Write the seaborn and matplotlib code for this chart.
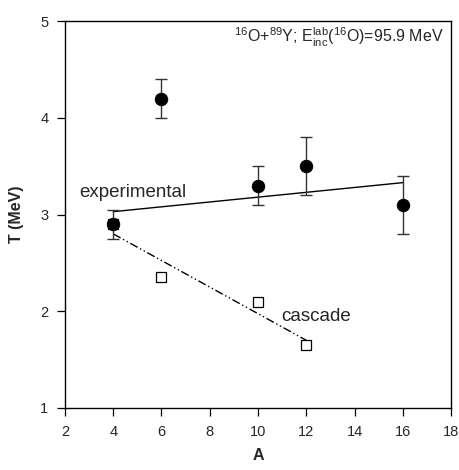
import numpy as np
import pandas as pd
import seaborn as sns
import matplotlib
matplotlib.use("Agg")
import matplotlib.pyplot as plt

# experimental points
A_exp = [4, 6, 10, 12, 16]
T_exp = [2.9, 4.2, 3.3, 3.5, 3.1]
T_err = [0.15, 0.2, 0.2, 0.3, 0.3]

# cascade points
A_casc = [4, 6, 10, 12]
T_casc = [2.9, 2.35, 2.1, 1.65]

# fitted lines
A_exp_fit = [4, 16]
T_exp_fit = [3.03, 3.33]
A_casc_fit = [4, 12]
T_casc_fit = [2.8, 1.7]

sns.set_style("ticks")
plt.rcParams["font.family"] = ["Liberation Sans", "DejaVu Sans"]
plt.rcParams["mathtext.fontset"] = "custom"
plt.rcParams["mathtext.rm"] = "Liberation Sans"
plt.rcParams["mathtext.it"] = "Liberation Sans"

fig = plt.figure(figsize=(4.59, 4.70), dpi=100)
ax = fig.add_axes([0.1416, 0.132, 0.8410, 0.823])

exp_df = pd.DataFrame({"A": A_exp, "T": T_exp})
casc_df = pd.DataFrame({"A": A_casc, "T": T_casc})

sns.lineplot(x=A_exp_fit, y=T_exp_fit, ax=ax, color="black", lw=1.0)
sns.lineplot(x=A_casc_fit, y=T_casc_fit, ax=ax, color="black", lw=1.0,
             linestyle=(0, (6, 2, 1, 2, 1, 2)))

sns.scatterplot(data=casc_df, x="A", y="T", ax=ax, marker="s", s=42,
                facecolor="white", edgecolor="black", linewidth=0.9, zorder=3)

ax.errorbar(A_exp, T_exp, yerr=T_err, fmt="none", ecolor="#333333",
            elinewidth=1.0, capsize=4, capthick=1.0, zorder=4)
sns.scatterplot(data=exp_df, x="A", y="T", ax=ax, marker="o", s=80,
                color="black", edgecolor="black", zorder=5)

ax.set_xlim(2, 18)
ax.set_ylim(1, 5)
ax.set_xticks(np.arange(2, 19, 2))
ax.set_yticks([1, 2, 3, 4, 5])
ax.tick_params(direction="out", length=6, width=0.9, labelsize=10.5,
               color="black", pad=6)
for s in ax.spines.values():
    s.set_linewidth(1.0)
    s.set_color("black")
    s.set_visible(True)

ax.set_xlabel("A", fontsize=11.5, fontweight="bold", labelpad=7)
ax.set_ylabel("T (MeV)", fontsize=11.5, fontweight="bold", labelpad=12)

ax.text(2.58, 3.23, "experimental", fontsize=13.5, va="center", ha="left")
ax.text(10.96, 1.95, "cascade", fontsize=13.5, va="center", ha="left")
ax.text(0.982, 0.958,
        r"$^{16}$O+$^{89}$Y; E$^{\mathrm{lab}}_{\mathrm{inc}}$($^{16}$O)=95.9 MeV",
        transform=ax.transAxes, fontsize=11.5, ha="right", va="center")

fig.savefig("out.png", dpi=100)
